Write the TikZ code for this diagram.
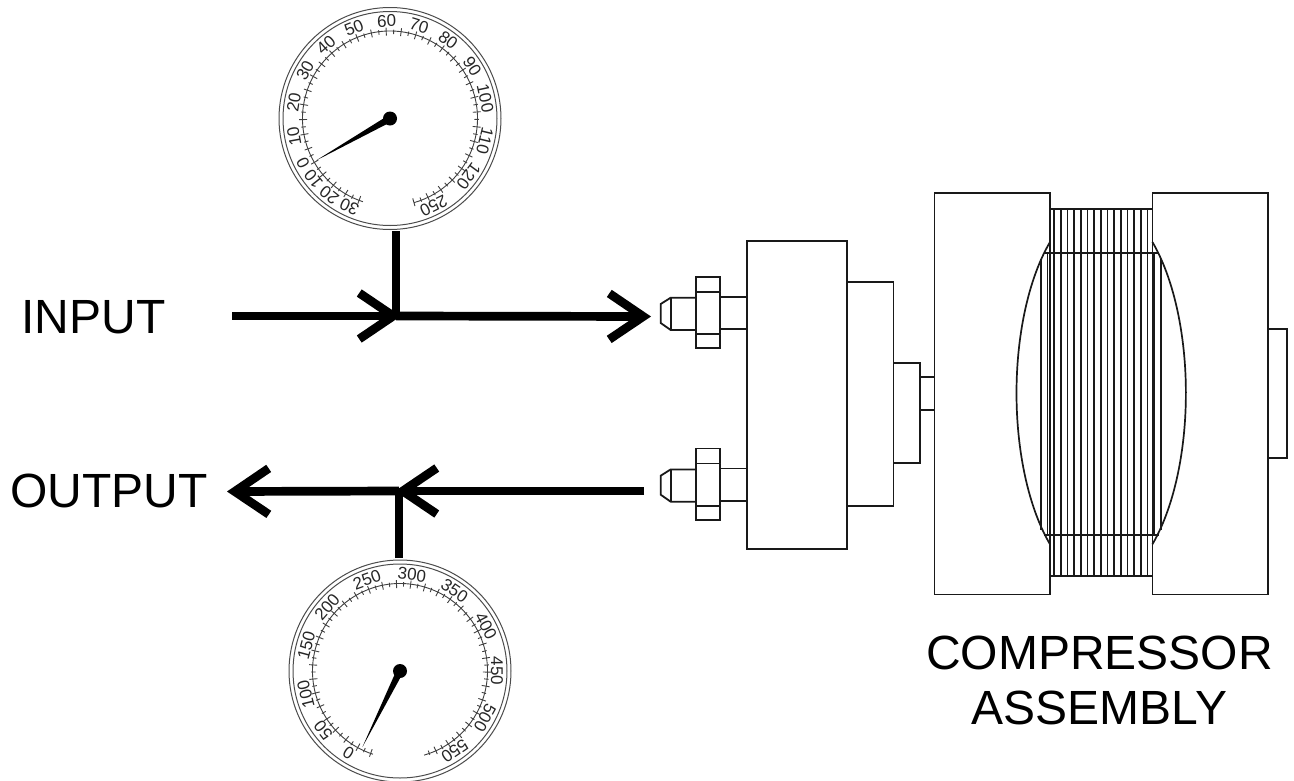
\documentclass[tikz,border=0pt]{standalone}
\usepackage{fontspec}
\setmainfont{Liberation Sans}
\usetikzlibrary{arrows.meta, positioning, calc}

\tikzset{
    part/.style={draw=black!90, line width=1.8pt, fill=white},
    coil/.style={draw=black!90, line width=1.7pt},
    pipe/.style={draw=black, line width=8.7pt},
    pipearrow/.style={pipe, -{Straight Barb[length=34pt, width=46pt]}},
    ring/.style={draw=black!70, line width=1pt},
    scaleline/.style={draw=black!75, line width=0.9pt},
    dial/.style={font=\fontsize{17}{18}\selectfont, text=black!85, inner sep=0pt},
    caption/.style={font=\fontsize{48}{55}\selectfont, align=center, inner sep=0pt}
}

% ticks: base angle, step, first and last index
\newcommand{\dialticks}[4]{
    \foreach \k in {#3,...,#4} {
        \pgfmathsetmacro{\ang}{#1 + #2*\k}
        \pgfmathtruncatemacro{\odd}{mod(abs(\k),2)}
        \ifnum\odd=0
            \draw [scaleline] (\ang:83pt) -- (\ang:91pt);
        \else
            \draw [scaleline] (\ang:84.5pt) -- (\ang:89pt);
        \fi
    }
}
\newcommand{\dialface}[1]{
    \draw [ring] (0, 0) circle [radius=111pt];
    \draw [ring] (0, 0) circle [radius=107pt];
    \draw [scaleline] (252:87.5pt) arc [start angle=252, end angle=-74, radius=87.5pt];
    \fill [black] (#1:85pt) -- (#1+90:3.5pt) -- (#1-90:3.5pt) -- cycle;
    \fill [black] (0, 0) circle [radius=7pt];
}

\begin{document}
\begin{tikzpicture}[x=1pt, y=-1pt]
    \path [use as bounding box, clip] (0, 0) rectangle (1294, 780);

    \coordinate (gaugeIn) at (390, 118.5);
    \coordinate (gaugeOut) at (400, 671);

    % input gauge
    \begin{scope}[shift={(gaugeIn)}]
        \dialface{209.6}
        \dialticks{92.5}{-4.9}{-32}{34}
        \foreach \ang/\lab in {207/0, 190.5/10, 170.5/20, 150.6/30, 131/40, 111.7/50, 92/60, 72.6/70, 53.4/80, 32.5/90, 12/100, -13.5/110, -36.3/120, -63.4/250, 245.4/30, 231.5/20, 218.3/10} {
            \node [dial, rotate=\ang-90] (in\lab at \ang) at (\ang:97.5pt) {\lab};
        }
    \end{scope}

    % output gauge
    \begin{scope}[shift={(gaugeOut)}]
        \dialface{243.7}
        \dialticks{83}{-4.65}{-36}{33}
        \foreach \ang/\lab in {238/0, 217.6/50, 193.9/100, 164.9/150, 138.7/200, 110/250, 82.9/300, 55.8/350, 27.6/400, 0/450, -28.9/500, -55.6/550} {
            \node [dial, rotate=\ang-90] (out\lab) at (\ang:97pt) {\lab};
        }
    \end{scope}

    % pipes
    \coordinate (inStart) at (232, 316);
    \coordinate (inTee) at (396, 316);
    \coordinate (inMid) at (401, 316);
    \coordinate (inEnd) at (651, 316.5);
    \coordinate (inStem) at (396, 231);
    \coordinate (outStart) at (644, 491);
    \coordinate (outTee) at (399, 491);
    \coordinate (outMid) at (395, 491);
    \coordinate (outEnd) at (227, 491.5);
    \coordinate (outStem) at (399, 558);

    \draw [pipe] (inStem) -- (inTee);
    \draw [pipearrow] (inStart) -- (inMid);
    \draw [pipearrow] (inTee) -- (inEnd);
    \draw [pipe] (outStem) -- (outTee);
    \draw [pipearrow] (outStart) -- (outMid);
    \draw [pipearrow] (outTee) -- (outEnd);

    \node [caption] (input) at (93.5, 317) {INPUT};
    \node [caption] (output) at (109, 491) {OUTPUT};
    \node [caption] (compressor) at (1099.5, 680) {COMPRESSOR\\ASSEMBLY};

    % fittings
    \foreach \dy in {0, 171.7} {
        \draw [part] (696.3, 297.7+\dy) -- (670.7, 297.7+\dy) -- (660.7, 304+\dy) -- (660.7, 323+\dy) -- (670.7, 330+\dy) -- (696.3, 330+\dy);
        \draw [part] (670.7, 297.7+\dy) -- (670.7, 330+\dy);
        \draw [part] (720.3, 296.7+\dy) rectangle (746.7, 329.3+\dy);
        \draw [part] (696.3, 276.7+\dy) rectangle (720.3, 348+\dy);
        \draw [part] (696.3, 291.7+\dy) -- (720.3, 291.7+\dy);
        \draw [part] (696.3, 334+\dy) -- (720.3, 334+\dy);
    }

    % compressor body
    \draw [part] (746.7, 241) rectangle (847, 549);
    \draw [part] (847, 281.7) rectangle (893.5, 506);
    \draw [part] (893.5, 363) rectangle (920, 463);
    \draw [part] (920, 376.7) rectangle (934.5, 410);
    \draw [part] (934.5, 193) rectangle (1050, 594.5);
    \draw [part] (1152.4, 193) rectangle (1267.7, 594.5);
    \draw [part] (1267.7, 329.3) rectangle (1286.7, 457.7);

    % windings
    \draw [coil] (1050, 242) arc [start angle=127.3, end angle=232.7, x radius=85pt, y radius=190pt];
    \draw [coil] (1152.4, 242) arc [start angle=52.7, end angle=-52.7, x radius=85pt, y radius=190pt];
    \draw [coil] (1050, 208.7) -- (1152.4, 208.7);
    \draw [coil] (1050, 575.7) -- (1152.4, 575.7);
    \draw [coil] (1044, 252.7) -- (1159, 252.7);
    \draw [coil] (1044, 535) -- (1159, 535);
    \foreach \i in {2,...,16} {
        \draw [coil] (1040.7+6.67*\i, 208.7) -- (1040.7+6.67*\i, 575.7);
    }
    \foreach \i in {1, 17} {
        \draw [coil] (1040.7+6.67*\i, 252.7) -- (1040.7+6.67*\i, 535);
    }
    \foreach \i in {0, 18} {
        \draw [coil] (1040.7+6.67*\i, 259) -- (1040.7+6.67*\i, 530);
    }
\end{tikzpicture}
\end{document}
